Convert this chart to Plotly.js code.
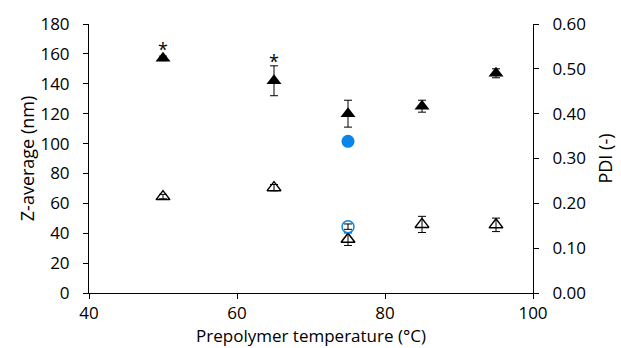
<!DOCTYPE html>
<html><head><meta charset="utf-8">
<script src="https://cdn.plot.ly/plotly-3.0.1.min.js"></script>
<style>body{margin:0;background:#fff}#c{width:621px;height:348px}</style>
</head><body><div id="c"></div>
<script>
const temps = [50, 65, 75, 85, 95];
const zAvg = [157, 142, 120, 125, 147];
const zErr = [1.5, 10, 9, 4, 3];
const pdi = [0.215, 0.235, 0.12, 0.153, 0.152];
const pdiErr = [0.005, 0.007, 0.014, 0.018, 0.015];
const blueTemp = [75];
const blueZ = [101.5];
const bluePdi = [0.148];
const bluePdiErr = [0.006];
const starTemps = [50, 65];
const starY = [163, 155.5];

const font = "Open Sans, Liberation Sans, sans-serif";
const data = [
  {x: temps, y: zAvg, type: 'scatter', mode: 'markers', yaxis: 'y',
   marker: {symbol: 'triangle-up', size: 13, color: '#000'},
   error_y: {type: 'data', array: zErr, color: '#000', thickness: 1, width: 4}},
  {x: blueTemp, y: blueZ, type: 'scatter', mode: 'markers', yaxis: 'y',
   marker: {symbol: 'circle', size: 13, color: '#0a85e8'}},
  {x: temps, y: pdi, type: 'scatter', mode: 'markers', yaxis: 'y2',
   marker: {symbol: 'triangle-up-open', size: 12, color: '#000', line: {width: 1.5}},
   error_y: {type: 'data', array: pdiErr, color: '#000', thickness: 1, width: 4}},
  {x: blueTemp, y: bluePdi, type: 'scatter', mode: 'markers', yaxis: 'y2',
   marker: {symbol: 'circle-open', size: 12, color: '#0a85e8', line: {width: 1.5}},
   error_y: {type: 'data', array: bluePdiErr, color: '#000', thickness: 1, width: 4}}
];
const annotations = starTemps.map((t, i) => ({
  x: t, y: starY[i], xref: 'x', yref: 'y', text: '*', showarrow: false,
  font: {family: font, size: 18, color: '#000'}
}));
const layout = {
  width: 621, height: 348,
  margin: {l: 89, r: 88, t: 24, b: 55},
  paper_bgcolor: '#fff', plot_bgcolor: '#fff',
  showlegend: false,
  font: {family: font, size: 17, color: '#000'},
  xaxis: {range: [40, 100], dtick: 20, tick0: 40, showgrid: false, zeroline: false,
    showline: true, linecolor: '#000', linewidth: 1, ticks: 'outside', ticklen: 5, tickcolor: '#000',
    ticklabelstandoff: 0,
    title: {text: 'Prepolymer temperature (°C)', font: {size: 17}, standoff: 6}},
  yaxis: {range: [0, 180], dtick: 20, showgrid: false, zeroline: false,
    showline: true, linecolor: '#000', linewidth: 1, ticks: 'outside', ticklen: 5, tickcolor: '#000',
    ticklabelstandoff: 10,
    title: {text: 'Z-average (nm)', font: {size: 18}, standoff: 1}},
  yaxis2: {range: [0, 0.6], dtick: 0.1, tickformat: '.2f', overlaying: 'y', side: 'right',
    showgrid: false, zeroline: false,
    showline: true, linecolor: '#000', linewidth: 1, ticks: 'outside', ticklen: 5, tickcolor: '#000',
    ticklabelstandoff: 10,
    title: {text: 'PDI (-)', font: {size: 18}, standoff: 14}},
  annotations: annotations
};
Plotly.newPlot('c', data, layout, {displayModeBar: false, staticPlot: true});
</script></body></html>
